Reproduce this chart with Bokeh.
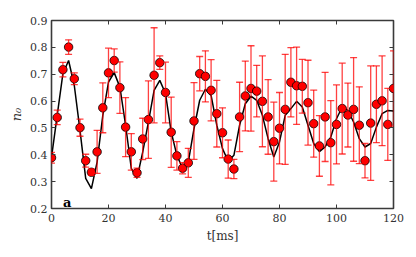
from bokeh.plotting import figure
from bokeh.models import ColumnDataSource, Whisker, TeeHead, Label, LinearAxis, FixedTicker, Range1d
from bokeh.embed import file_html
from bokeh.resources import INLINE

t = [0, 2, 4, 6, 8, 10, 12, 14, 16, 18, 20, 22, 24, 26, 28, 30, 32, 34, 36, 38,
     40, 42, 44, 46, 48, 50, 52, 54, 56, 58, 60, 62, 64, 66, 68, 70, 72, 74, 76, 78,
     80, 82, 84, 86, 88, 90, 92, 94, 96, 98, 100, 102, 104, 106, 108, 110, 112, 114, 116, 118, 120]

n0 = [0.389, 0.539, 0.717, 0.801, 0.683, 0.501, 0.378, 0.335, 0.411, 0.575,
      0.705, 0.751, 0.650, 0.503, 0.411, 0.333, 0.459, 0.531, 0.696, 0.743,
      0.632, 0.484, 0.396, 0.350, 0.370, 0.526, 0.702, 0.692, 0.640, 0.553,
      0.482, 0.384, 0.347, 0.541, 0.619, 0.647, 0.637, 0.599, 0.541, 0.449,
      0.499, 0.569, 0.670, 0.657, 0.655, 0.594, 0.516, 0.433, 0.541, 0.445,
      0.513, 0.572, 0.548, 0.569, 0.510, 0.378, 0.518, 0.588, 0.601, 0.513, 0.647]

err = [0.020, 0.027, 0.027, 0.027, 0.022, 0.032, 0.024, 0.012, 0.080, 0.093,
       0.092, 0.043, 0.096, 0.110, 0.068, 0.017, 0.077, 0.144, 0.177, 0.025,
       0.113, 0.131, 0.053, 0.021, 0.054, 0.143, 0.064, 0.095, 0.114, 0.124,
       0.093, 0.071, 0.036, 0.129, 0.130, 0.159, 0.096, 0.169, 0.139, 0.147,
       0.133, 0.205, 0.129, 0.144, 0.100, 0.158, 0.125, 0.113, 0.166, 0.157,
       0.147, 0.169, 0.119, 0.193, 0.143, 0.064, 0.213, 0.143, 0.167, 0.134, 0.140]

fit = [0.390, 0.547, 0.702, 0.751, 0.658, 0.491, 0.312, 0.274, 0.373, 0.547,
       0.671, 0.706, 0.652, 0.510, 0.349, 0.312, 0.410, 0.522, 0.640, 0.677,
       0.628, 0.485, 0.398, 0.349, 0.373, 0.497, 0.603, 0.644, 0.621, 0.510,
       0.423, 0.376, 0.398, 0.510, 0.590, 0.618, 0.603, 0.547, 0.460, 0.392,
       0.448, 0.547, 0.572, 0.599, 0.578, 0.510, 0.442, 0.412, 0.429, 0.466,
       0.534, 0.578, 0.565, 0.522, 0.460, 0.429, 0.442, 0.503, 0.553, 0.565, 0.563]

x_ticks = [0, 20, 40, 60, 80, 100, 120]
y_ticks = [0.2, 0.3, 0.4, 0.5, 0.6, 0.7, 0.8, 0.9]

FONT = "DejaVu Serif"
FRAME_C = "#3a3a3a"
TXT_C = "#333333"

src = ColumnDataSource(dict(
    t=t, n0=n0, fit=fit,
    lo=[a - b for a, b in zip(n0, err)],
    hi=[a + b for a, b in zip(n0, err)],
))

p = figure(width=410, height=250,
           min_border_left=51, min_border_right=17, min_border_top=20, min_border_bottom=42,
           x_range=Range1d(0, 120), y_range=Range1d(0.2, 0.9),
           output_backend="svg", toolbar_location=None,
           background_fill_color="white", border_fill_color="white")

p.xgrid.visible = False
p.ygrid.visible = False
p.outline_line_color = FRAME_C
p.outline_line_width = 1.6

bottom_ax = p.below[0]
left_ax = p.left[0]

def style_axis(ax, labels=True):
    ax.axis_line_color = None
    ax.major_tick_in = 4
    ax.major_tick_out = 0
    ax.minor_tick_line_color = None
    ax.major_tick_line_color = FRAME_C
    ax.major_tick_line_width = 1
    ax.major_label_text_font = FONT
    ax.major_label_text_font_size = "11px"
    ax.major_label_text_color = TXT_C
    if not labels:
        ax.major_label_text_alpha = 0
        ax.major_label_text_font_size = "1px"
        ax.major_label_standoff = 0

bottom_ax.ticker = FixedTicker(ticks=x_ticks)
left_ax.ticker = FixedTicker(ticks=y_ticks)
bottom_ax.major_label_standoff = 5
left_ax.major_label_standoff = 4
style_axis(bottom_ax)
style_axis(left_ax)

top = LinearAxis(ticker=FixedTicker(ticks=x_ticks))
right = LinearAxis(ticker=FixedTicker(ticks=y_ticks))
style_axis(top, labels=False)
style_axis(right, labels=False)
p.add_layout(top, "above")
p.add_layout(right, "right")

left_ax.axis_label = "n\u2080"
left_ax.axis_label_text_font = FONT
left_ax.axis_label_text_font_style = "italic"
left_ax.axis_label_text_font_size = "13px"
left_ax.axis_label_text_color = TXT_C
left_ax.axis_label_standoff = 3

bottom_ax.axis_label = "t[ms]"
bottom_ax.axis_label_text_font = FONT
bottom_ax.axis_label_text_font_style = "normal"
bottom_ax.axis_label_text_font_size = "12px"
bottom_ax.axis_label_text_color = TXT_C
bottom_ax.axis_label_standoff = 4

wh = Whisker(source=src, base="t", lower="lo", upper="hi",
             line_color="red", line_alpha=0.75, line_width=1.3,
             upper_head=TeeHead(size=7, line_color="red", line_alpha=0.75, line_width=1.3),
             lower_head=TeeHead(size=7, line_color="red", line_alpha=0.75, line_width=1.3),
             level="glyph")
p.add_layout(wh)

p.line("t", "fit", source=src, line_color="black", line_width=1.5)
p.scatter("t", "n0", source=src, size=8.5, fill_color="#ff0000",
          line_color="black", line_width=0.8)

p.add_layout(Label(x=5.5, y=0.222, text="a", text_font=FONT, text_font_style="bold",
                   text_font_size="13px", text_color="black", text_align="center",
                   text_baseline="alphabetic"))

open("out.html", "w").write(file_html(p, INLINE))
